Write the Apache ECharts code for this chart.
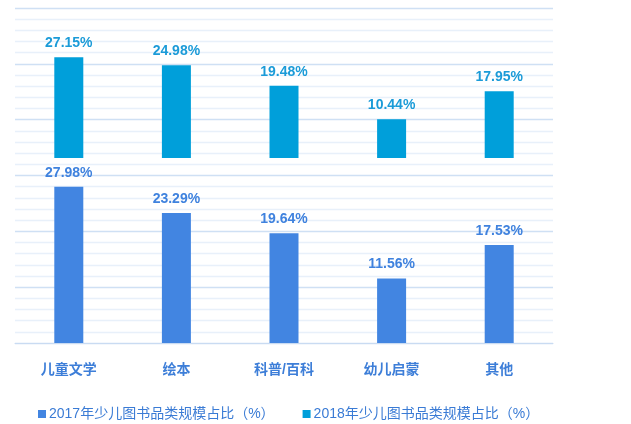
<!DOCTYPE html>
<html>
<head>
<meta charset="utf-8">
<script src="https://cdn.jsdelivr.net/npm/echarts@6/dist/echarts.min.js"></script>
<style>
  html, body { margin: 0; padding: 0; background: #fff; }
  #chart { width: 631px; height: 424px; }
</style>
</head>
<body>
<div id="chart"></div>
<script>
const categories = ['儿童文学', '绘本', '科普/百科', '幼儿启蒙', '其他'];
const share2017 = [27.98, 23.29, 19.64, 11.56, 17.53];
const share2018 = [27.15, 24.98, 19.48, 10.44, 17.95];
const name2017 = '2017年少儿图书品类规模占比（%）';
const name2018 = '2018年少儿图书品类规模占比（%）';

const chart = echarts.init(document.getElementById('chart'));
const font = '"Liberation Sans", Arial, "Noto Sans CJK SC", sans-serif';

const option = {
  animation: false,
  textStyle: { fontFamily: font },
  legend: {
    data: [name2017, name2018],
    left: 33,
    bottom: -2,
    itemWidth: 8,
    itemHeight: 8,
    itemGap: 28,
    icon: 'rect',
    textStyle: { color: '#3a7bd5', fontSize: 14, fontFamily: font, padding: [0, 0, 0, -2] }
  },
  grid: [
    { left: 15, right: 78, top: 8, height: 150 },
    { left: 15, right: 78, top: 8, bottom: 81 }
  ],
  xAxis: [
    {
      gridIndex: 0, type: 'category', data: categories,
      show: false
    },
    {
      gridIndex: 1, type: 'category', data: categories,
      axisLine: { lineStyle: { color: '#c9dbf2', width: 1 } },
      axisTick: { show: false },
      axisLabel: { color: '#3d7ed8', fontSize: 14, fontWeight: 'bold', margin: 20, fontFamily: font }
    }
  ],
  yAxis: [
    {
      gridIndex: 0, type: 'value', min: 0, max: 40.4,
      show: false, splitLine: { show: false }
    },
    {
      gridIndex: 1, type: 'value', min: 0, max: 60, interval: 10,
      axisLine: { show: false }, axisTick: { show: false }, axisLabel: { show: false },
      splitLine: { lineStyle: { color: '#cfe0f4', width: 1.3 } },
      minorTick: { show: false, splitNumber: 5 },
      minorSplitLine: { show: true, lineStyle: { color: '#e8f0fa', width: 1.3 } }
    }
  ],
  series: [
    {
      name: name2018, type: 'bar', xAxisIndex: 0, yAxisIndex: 0,
      data: share2018, barWidth: 29,
      itemStyle: { color: '#009fda' },
      label: {
        show: true, position: 'top', distance: 7,
        formatter: p => p.value.toFixed(2) + '%',
        color: '#1b9bd8', fontSize: 14, fontWeight: 'bold', fontFamily: font
      }
    },
    {
      name: name2017, type: 'bar', xAxisIndex: 1, yAxisIndex: 1,
      data: share2017, barWidth: 29,
      itemStyle: { color: '#4285e1' },
      label: {
        show: true, position: 'top', distance: 7,
        formatter: p => p.value.toFixed(2) + '%',
        color: '#3f82de', fontSize: 14, fontWeight: 'bold', fontFamily: font
      }
    }
  ]
};

chart.setOption(option);
window.onresize = () => { chart.resize(); };
</script>
</body>
</html>
